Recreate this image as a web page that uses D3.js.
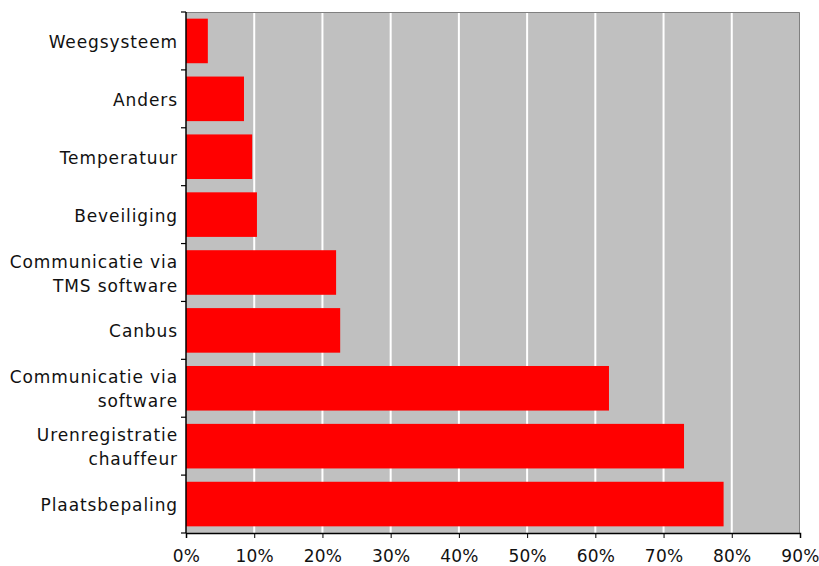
<!DOCTYPE html>
<html>
<head>
<meta charset="utf-8">
<script src="https://cdn.jsdelivr.net/npm/d3@7/dist/d3.min.js"></script>
<style>
  html, body { margin: 0; padding: 0; background: #fff; }
  svg { display: block; }
  text { font-family: "DejaVu Sans", Verdana, sans-serif; fill: #111; }
</style>
</head>
<body>
<svg id="chart" width="819" height="566"></svg>
<script>
// Categories, top to bottom, and their shares (percent)
const categories = [
  ["Weegsysteem"],
  ["Anders"],
  ["Temperatuur"],
  ["Beveiliging"],
  ["Communicatie via", "TMS software"],
  ["Canbus"],
  ["Communicatie via", "software"],
  ["Urenregistratie", "chauffeur"],
  ["Plaatsbepaling"]
];
const values = [3.2, 8.5, 9.7, 10.4, 22.0, 22.6, 62.0, 73.0, 78.8];
const xTicks = [0, 10, 20, 30, 40, 50, 60, 70, 80, 90];

const margin = { top: 12, right: 19, bottom: 33, left: 186 };
const W = 819, H = 566;
const iw = W - margin.left - margin.right;
const ih = H - margin.top - margin.bottom;
const fontSize = 17;
const spacing = "0.9px";

const svg = d3.select("#chart");
const g = svg.append("g").attr("transform", `translate(${margin.left},${margin.top})`);

const keys = categories.map((c, i) => i);
const x = d3.scaleLinear().domain([0, 90]).range([0, iw]);
const y = d3.scaleBand().domain(keys).range([0, ih]).paddingInner(0.23).paddingOuter(0.115);

// plot background
g.append("rect").attr("width", iw).attr("height", ih).attr("fill", "#c0c0c0");

// vertical gridlines
g.selectAll("line.grid").data(xTicks.slice(1, -1)).join("line")
  .attr("class", "grid")
  .attr("x1", d => x(d)).attr("x2", d => x(d))
  .attr("y1", 0).attr("y2", ih)
  .attr("stroke", "#ffffff").attr("stroke-width", 2);

// plot frame (top / right)
g.append("path")
  .attr("d", `M0,0.5H${iw - 0.5}V${ih}`)
  .attr("fill", "none").attr("stroke", "#808080").attr("stroke-width", 1);

// bars
g.selectAll("rect.bar").data(values).join("rect")
  .attr("class", "bar")
  .attr("x", x(0))
  .attr("y", (d, i) => y(i))
  .attr("width", d => x(d) - x(0))
  .attr("height", y.bandwidth())
  .attr("fill", "#ff0000");

// x axis
const xAxis = g.append("g").attr("transform", `translate(0,${ih})`)
  .call(d3.axisBottom(x).tickValues(xTicks).tickFormat(d => d + "%").tickSizeOuter(0).tickSize(5).tickPadding(12));
xAxis.select(".domain").attr("stroke", "#000").attr("stroke-width", 1.5);
xAxis.selectAll(".tick line").attr("stroke", "#000");
xAxis.selectAll(".tick text")
  .attr("font-size", fontSize)
  .attr("font-family", "DejaVu Sans, Verdana, sans-serif")
  .attr("letter-spacing", "0.2px")
  .attr("fill", "#111");

// y axis: ticks at category boundaries
const boundaries = d3.range(categories.length + 1).map(i => i * ih / categories.length);
const yAxis = g.append("g");
yAxis.append("line").attr("x1", 0).attr("x2", 0).attr("y1", 0).attr("y2", ih)
  .attr("stroke", "#000").attr("stroke-width", 1.5);
yAxis.selectAll("line.tk").data(boundaries).join("line")
  .attr("class", "tk")
  .attr("x1", -5).attr("x2", 0)
  .attr("y1", d => d).attr("y2", d => d)
  .attr("stroke", "#000").attr("stroke-width", 1.2);

// category labels
const lab = g.selectAll("text.cat").data(categories).join("text")
  .attr("class", "cat")
  .attr("text-anchor", "end")
  .attr("font-size", fontSize)
  .attr("letter-spacing", spacing)
  .attr("x", -8)
  .attr("y", (d, i) => y(i) + y.bandwidth() / 2);
lab.each(function(lines) {
  const t = d3.select(this);
  const lh = 24;
  lines.forEach((s, k) => {
    t.append("tspan")
      .attr("x", -8)
      .attr("dy", k === 0 ? (-(lines.length - 1) * lh / 2 + 7) : lh)
      .text(s);
  });
});
</script>
</body>
</html>
